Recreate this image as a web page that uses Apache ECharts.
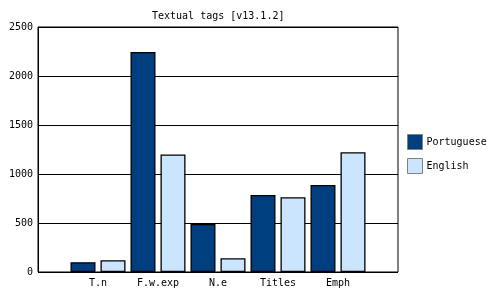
<!DOCTYPE html>
<html>
<head>
<meta charset="utf-8">
<script src="https://cdn.jsdelivr.net/npm/echarts@6/dist/echarts.min.js"></script>
<style>html,body{margin:0;padding:0;background:#fff}#c{width:500px;height:300px}</style>
</head>
<body>
<div id="c"></div>
<script>
const categories = ['T.n', 'F.w.exp', 'N.e', 'Titles', 'Emph'];
const portuguese = [100, 2245, 490, 786, 888];
const english = [120, 1200, 140, 762, 1222];
const seriesNames = ['Portuguese', 'English'];
const yTicks = { min: 0, max: 2500, interval: 500 };

const FONT = 'DejaVu Sans Mono';
const chart = echarts.init(document.getElementById('c'));
chart.setOption({
  animation: false,
  backgroundColor: '#fff',
  title: {
    text: 'Textual tags [v13.1.2]',
    left: 152, top: 11, padding: 0,
    textStyle: { fontFamily: FONT, fontSize: 10, fontWeight: 'normal', color: '#000' }
  },
  legend: {
    orient: 'vertical', left: 407, top: 134, padding: 0,
    itemWidth: 15, itemHeight: 15, itemGap: 8,
    icon: 'rect',
    itemStyle: { borderColor: '#808080', borderWidth: 1 },
    textStyle: { fontFamily: FONT, fontSize: 10, color: '#000', padding: [0, 0, 0, -1] },
    data: seriesNames
  },
  grid: [
    { left: 38, right: 102, top: 27, bottom: 28, show: true, borderColor: '#000', borderWidth: 1, backgroundColor: 'transparent' },
    { left: 68, right: 132, top: 27, bottom: 28 }
  ],
  xAxis: [
    { type: 'value', gridIndex: 0, show: false, min: 0, max: 1 },
    {
      type: 'category', gridIndex: 1, data: categories,
      axisLine: { show: false }, axisTick: { show: false },
      axisLabel: { fontFamily: FONT, fontSize: 10, color: '#000', margin: 6 }
    }
  ],
  yAxis: [
    {
      type: 'value', gridIndex: 0, min: yTicks.min, max: yTicks.max, interval: yTicks.interval,
      axisLine: { show: true, lineStyle: { color: '#000' } }, axisTick: { show: false },
      axisLabel: { fontFamily: FONT, fontSize: 10, color: '#000', margin: 5, formatter: v => String(v) },
      splitLine: { show: true, lineStyle: { color: '#000', width: 1 } }
    },
    {
      type: 'value', gridIndex: 1, min: yTicks.min, max: yTicks.max, interval: yTicks.interval,
      show: false, splitLine: { show: false }
    }
  ],
  series: [
    {
      name: seriesNames[0], type: 'bar', xAxisIndex: 1, yAxisIndex: 1, data: portuguese,
      barWidth: 25, barGap: '20%',
      itemStyle: { color: '#003F7F', borderColor: '#000', borderWidth: 1.3 }
    },
    {
      name: seriesNames[1], type: 'bar', xAxisIndex: 1, yAxisIndex: 1, data: english,
      barWidth: 25, barGap: '20%',
      itemStyle: { color: '#CCE5FF', borderColor: '#000', borderWidth: 1.3 }
    }
  ]
});
</script>
</body>
</html>
